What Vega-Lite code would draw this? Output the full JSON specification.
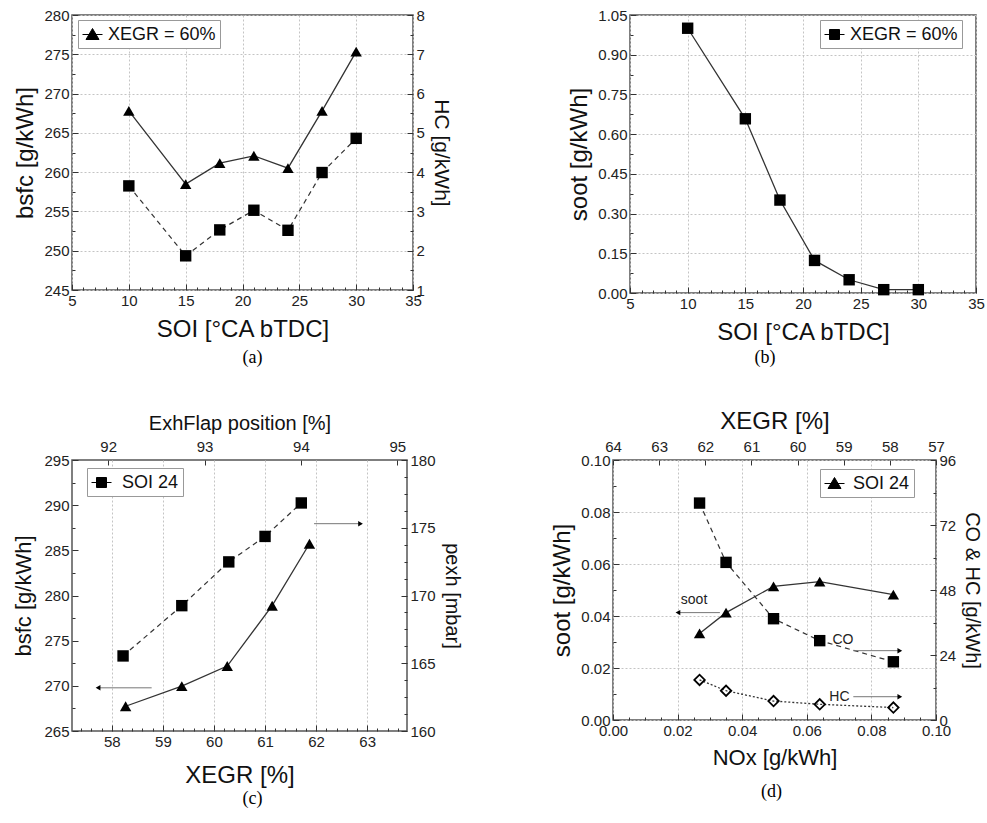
{
  "$schema": "https://vega.github.io/schema/vega-lite/v6.json",
  "background": "white",
  "padding": {"left": 12, "top": 7, "right": 0, "bottom": 0},
  "spacing": 40,
  "resolve": {"scale": {"color": "independent"}, "legend": {"color": "independent"}},
  "config": {
    "font": "Liberation Sans",
    "view": {"stroke": "#555", "strokeWidth": 1.5},
    "axis": {
      "labelFont": "Liberation Sans", "labelFontSize": 15, "labelColor": "#222",
      "titleFont": "Liberation Sans", "titleFontWeight": "normal", "titleColor": "#111",
      "domain": false, "tickColor": "#333", "tickWidth": 1,
      "gridColor": "#c4c4c4", "gridDash": [2, 2], "gridWidth": 1,
      "labelOverlap": false, "labelFlush": false, "labelPadding": 9, "titlePadding": 6
    },
    "legend": {
      "orient": "none", "title": null, "labelFont": "Liberation Sans", "labelFontSize": 18, "labelColor": "#111",
      "strokeColor": "#999", "fillColor": "white", "padding": 4, "symbolSize": 400, "labelOffset": 5,
      "symbolStrokeColor": "#000", "symbolFillColor": "#000", "symbolStrokeWidth": 1
    }
  },
  "datasets": {
    "a_bsfc": [
      {"x": 10, "y": 267.8}, {"x": 15, "y": 258.47}, {"x": 18, "y": 261.14}, {"x": 21, "y": 262.08},
      {"x": 24, "y": 260.51}, {"x": 27, "y": 267.8}, {"x": 30, "y": 275.34}
    ],
    "a_hc": [
      {"x": 10, "y": 3.65}, {"x": 15, "y": 1.87}, {"x": 18, "y": 2.53}, {"x": 21, "y": 3.03},
      {"x": 24, "y": 2.52}, {"x": 27, "y": 3.99}, {"x": 30, "y": 4.86}
    ],
    "b_soot": [
      {"x": 10, "y": 1.0}, {"x": 15, "y": 0.658}, {"x": 18, "y": 0.351}, {"x": 21, "y": 0.123},
      {"x": 24, "y": 0.05}, {"x": 27, "y": 0.0126}, {"x": 30, "y": 0.0126}
    ],
    "c_bsfc": [
      {"x": 58.27, "y": 267.74}, {"x": 59.37, "y": 269.97}, {"x": 60.26, "y": 272.19},
      {"x": 61.14, "y": 278.87}, {"x": 61.87, "y": 285.73}
    ],
    "c_pexh": [
      {"x": 58.22, "y": 165.54}, {"x": 59.37, "y": 169.25}, {"x": 60.29, "y": 172.48},
      {"x": 61.0, "y": 174.36}, {"x": 61.71, "y": 176.83}
    ],
    "c_arrow_left": [{"x": 58.78, "x2": 57.73, "y": 269.78}],
    "c_head_left": [{"x": 57.73, "y": 269.78}],
    "c_arrow_right": [{"x": 61.96, "x2": 62.87, "y": 287.95}],
    "c_head_right": [{"x": 62.87, "y": 287.95}],
    "d_soot": [
      {"x": 0.0268, "y": 0.0333}, {"x": 0.035, "y": 0.0413}, {"x": 0.0497, "y": 0.0514},
      {"x": 0.064, "y": 0.0532}, {"x": 0.0868, "y": 0.0482}
    ],
    "d_co": [
      {"x": 0.0268, "y": 80.1}, {"x": 0.035, "y": 58.2}, {"x": 0.0497, "y": 37.4},
      {"x": 0.064, "y": 29.3}, {"x": 0.0868, "y": 21.5}
    ],
    "d_hc": [
      {"x": 0.0268, "y": 14.8}, {"x": 0.035, "y": 10.8}, {"x": 0.0497, "y": 7.0},
      {"x": 0.064, "y": 5.8}, {"x": 0.0868, "y": 4.6}
    ],
    "d_soot_arrow": [{"x": 0.0331, "x2": 0.0201, "y": 0.0413}],
    "d_soot_head": [{"x": 0.0201, "y": 0.0413}],
    "d_soot_text": [{"x": 0.0251, "y": 0.0462, "t": "soot"}],
    "d_right_arrows": [{"x": 0.0744, "x2": 0.0888, "y": 25.6}, {"x": 0.0744, "x2": 0.0888, "y": 8.6}],
    "d_right_heads": [{"x": 0.0888, "y": 25.6}, {"x": 0.0888, "y": 8.6}],
    "d_right_text": [{"x": 0.0712, "y": 29.5, "t": "CO"}, {"x": 0.0701, "y": 8.6, "t": "HC"}]
  },
  "vconcat": [
    {
      "bounds": "flush",
      "spacing": 217,
      "resolve": {"scale": {"color": "independent"}, "legend": {"color": "independent"}},
      "hconcat": [
        {
          "width": 341, "height": 275,
          "title": {"text": "(a)", "orient": "bottom", "font": "Liberation Serif", "fontSize": 18, "fontWeight": "normal", "color": "#000", "offset": 8, "dx": 10},
          "layer": [
            {
              "encoding": {
                "x": {"field": "x", "type": "quantitative", "scale": {"domain": [5, 35], "nice": false, "zero": false},
                  "axis": {"title": "SOI [°CA bTDC]", "titleFontSize": 24,
                    "values": [5,6,7,8,9,10,11,12,13,14,15,16,17,18,19,20,21,22,23,24,25,26,27,28,29,30,31,32,33,34,35],
                    "labelExpr": "datum.value % 5 === 0 ? datum.label : ''",
                    "tickSize": {"condition": {"test": "datum.value % 5 === 0", "value": -6}, "value": -3},
                    "gridOpacity": {"condition": {"test": "datum.value % 5 === 0", "value": 1}, "value": 0}}},
                "y": {"field": "y", "type": "quantitative", "scale": {"domain": [245, 280], "nice": false, "zero": false},
                  "axis": {"orient": "left", "title": "bsfc [g/kWh]", "titleFontSize": 24,
                    "values": [245,247.5,250,252.5,255,257.5,260,262.5,265,267.5,270,272.5,275,277.5,280],
                    "labelExpr": "datum.value % 5 === 0 ? datum.label : ''",
                    "tickSize": {"condition": {"test": "datum.value % 5 === 0", "value": -6}, "value": -3},
                    "gridOpacity": {"condition": {"test": "datum.value % 5 === 0", "value": 1}, "value": 0}}}
              },
              "layer": [
                {"data": {"name": "a_bsfc"}, "mark": {"type": "line", "color": "#333", "strokeWidth": 1.3}},
                {"data": {"name": "a_bsfc"}, "mark": {"type": "point", "shape": "triangle-up", "filled": true, "size": 130, "opacity": 1},
                  "encoding": {"color": {"datum": "XEGR = 60%", "scale": {"range": ["#000"]},
                    "legend": {"legendX": 6, "legendY": 5, "symbolType": "M-1,0H1M0,-0.6L0.65,0.5L-0.65,0.5Z",
                      "encode": {"symbols": {"update": {"stroke": {"value": "#000"}, "strokeWidth": {"value": 1}, "fill": {"value": "#000"}, "opacity": {"value": 1}}}}}}}}
              ]
            },
            {
              "encoding": {
                "x": {"field": "x", "type": "quantitative", "scale": {"domain": [5, 35], "nice": false, "zero": false},
                  "axis": {"title": "SOI [°CA bTDC]", "titleFontSize": 24,
                    "values": [5,6,7,8,9,10,11,12,13,14,15,16,17,18,19,20,21,22,23,24,25,26,27,28,29,30,31,32,33,34,35],
                    "labelExpr": "datum.value % 5 === 0 ? datum.label : ''",
                    "tickSize": {"condition": {"test": "datum.value % 5 === 0", "value": -6}, "value": -3},
                    "gridOpacity": {"condition": {"test": "datum.value % 5 === 0", "value": 1}, "value": 0}}},
                "y": {"field": "y", "type": "quantitative", "scale": {"domain": [1, 8], "nice": false, "zero": false},
                  "axis": {"orient": "right", "title": "HC [g/kWh]", "titleFontSize": 21, "grid": false,
                    "values": [1,1.5,2,2.5,3,3.5,4,4.5,5,5.5,6,6.5,7,7.5,8],
                    "labelExpr": "datum.value % 1 === 0 ? format(datum.value, 'd') : ''",
                    "tickSize": {"condition": {"test": "datum.value % 1 === 0", "value": -6}, "value": -3}}}
              },
              "layer": [
                {"data": {"name": "a_hc"}, "mark": {"type": "line", "color": "#333", "strokeWidth": 1.2, "strokeDash": [5, 4]}},
                {"data": {"name": "a_hc"}, "mark": {"type": "point", "shape": "square", "filled": true, "size": 130, "color": "#000", "opacity": 1}}
              ]
            }
          ],
          "resolve": {"scale": {"y": "independent"}}
        },
        {
          "width": 346, "height": 278,
          "title": {"text": "(b)", "orient": "bottom", "font": "Liberation Serif", "fontSize": 18, "fontWeight": "normal", "color": "#000", "offset": 5, "dx": -38},
          "data": {"name": "b_soot"},
          "encoding": {
            "x": {"field": "x", "type": "quantitative", "scale": {"domain": [5, 35], "nice": false, "zero": false},
              "axis": {"title": "SOI [°CA bTDC]", "titleFontSize": 24,
                "values": [5,6,7,8,9,10,11,12,13,14,15,16,17,18,19,20,21,22,23,24,25,26,27,28,29,30,31,32,33,34,35],
                "labelExpr": "datum.value % 5 === 0 ? datum.label : ''",
                "tickSize": {"condition": {"test": "datum.value % 5 === 0", "value": -6}, "value": -3},
                "gridOpacity": {"condition": {"test": "datum.value % 5 === 0", "value": 1}, "value": 0}}},
            "y": {"field": "y", "type": "quantitative", "scale": {"domain": [0, 1.05], "nice": false, "zero": false},
              "axis": {"title": "soot [g/kWh]", "titleFontSize": 24, "format": ".2f",
                "values": [0,0.075,0.15,0.225,0.3,0.375,0.45,0.525,0.6,0.675,0.75,0.825,0.9,0.975,1.05],
                "labelExpr": "abs(datum.value/0.15 - round(datum.value/0.15)) < 0.001 ? datum.label : ''",
                "tickSize": {"condition": {"test": "abs(datum.value/0.15 - round(datum.value/0.15)) < 0.001", "value": -6}, "value": -3},
                "gridOpacity": {"condition": {"test": "abs(datum.value/0.15 - round(datum.value/0.15)) < 0.001", "value": 1}, "value": 0}}}
          },
          "layer": [
            {"mark": {"type": "line", "color": "#333", "strokeWidth": 1.3}},
            {"mark": {"type": "point", "shape": "square", "filled": true, "size": 130, "opacity": 1},
              "encoding": {"color": {"datum": "XEGR = 60%", "scale": {"range": ["#000"]},
                "legend": {"legendX": 190, "legendY": 5, "symbolType": "M-1,0H1M-0.5,-0.5H0.5V0.5H-0.5Z",
                  "encode": {"symbols": {"update": {"stroke": {"value": "#000"}, "strokeWidth": {"value": 1}, "fill": {"value": "#000"}, "opacity": {"value": 1}}}}}}}}
          ]
        }
      ]
    },
    {
      "bounds": "flush",
      "spacing": 206,
      "resolve": {"scale": {"color": "independent"}, "legend": {"color": "independent"}},
      "hconcat": [
        {
          "width": 335, "height": 271,
          "title": {"text": "(c)", "orient": "bottom", "font": "Liberation Serif", "fontSize": 18, "fontWeight": "normal", "color": "#000", "offset": 3, "dx": 13},
          "layer": [
            {
              "encoding": {
                "x": {"field": "x", "type": "quantitative", "scale": {"domain": [57.22, 63.78], "nice": false, "zero": false},
                  "axis": {"orient": "bottom", "title": "XEGR [%]", "titleFontSize": 24, "titlePadding": 11,
                    "values": [57.4,57.6,57.8,58,58.2,58.4,58.6,58.8,59,59.2,59.4,59.6,59.8,60,60.2,60.4,60.6,60.8,61,61.2,61.4,61.6,61.8,62,62.2,62.4,62.6,62.8,63,63.2,63.4,63.6],
                    "labelExpr": "abs(datum.value - round(datum.value)) < 0.001 ? format(datum.value, 'd') : ''",
                    "tickSize": {"condition": {"test": "abs(datum.value - round(datum.value)) < 0.001", "value": -6}, "value": -3},
                    "gridOpacity": {"condition": {"test": "abs(datum.value - round(datum.value)) < 0.001", "value": 1}, "value": 0}}},
                "y": {"field": "y", "type": "quantitative", "scale": {"domain": [265, 295], "nice": false, "zero": false},
                  "axis": {"orient": "left", "title": "bsfc [g/kWh]", "titleFontSize": 22, "titlePadding": 8, "grid": false,
                    "values": [265,267.5,270,272.5,275,277.5,280,282.5,285,287.5,290,292.5,295],
                    "labelExpr": "datum.value % 5 === 0 ? datum.label : ''",
                    "tickSize": {"condition": {"test": "datum.value % 5 === 0", "value": -6}, "value": -3}}}
              },
              "layer": [
                {"data": {"name": "c_bsfc"}, "mark": {"type": "line", "color": "#333", "strokeWidth": 1.3}},
                {"data": {"name": "c_bsfc"}, "mark": {"type": "point", "shape": "triangle-up", "filled": true, "size": 130, "color": "#000", "opacity": 1}},
                {"data": {"name": "c_arrow_left"}, "mark": {"type": "rule", "color": "#777", "strokeWidth": 1}, "encoding": {"x2": {"field": "x2"}}},
                {"data": {"name": "c_head_left"}, "mark": {"type": "point", "shape": "triangle-left", "filled": true, "size": 30, "color": "#000", "opacity": 1}},
                {"data": {"name": "c_arrow_right"}, "mark": {"type": "rule", "color": "#777", "strokeWidth": 1}, "encoding": {"x2": {"field": "x2"}}},
                {"data": {"name": "c_head_right"}, "mark": {"type": "point", "shape": "triangle-right", "filled": true, "size": 30, "color": "#000", "opacity": 1}}
              ]
            },
            {
              "encoding": {
                "x": {"field": "x", "type": "quantitative", "scale": {"domain": [57.22, 63.78], "nice": false, "zero": false}, "axis": null},
                "y": {"field": "y", "type": "quantitative", "scale": {"domain": [160, 180], "nice": false, "zero": false},
                  "axis": {"orient": "right", "title": "pexh [mbar]", "titleFontSize": 20,
                    "values": [160,161.25,162.5,163.75,165,166.25,167.5,168.75,170,171.25,172.5,173.75,175,176.25,177.5,178.75,180],
                    "labelExpr": "datum.value % 5 === 0 ? datum.label : ''",
                    "tickSize": {"condition": {"test": "datum.value % 5 === 0", "value": -6}, "value": -3},
                    "gridOpacity": {"condition": {"test": "datum.value % 5 === 0", "value": 1}, "value": 0}}}
              },
              "layer": [
                {"data": {"name": "c_pexh"}, "mark": {"type": "line", "color": "#333", "strokeWidth": 1.2, "strokeDash": [5, 4]}},
                {"data": {"name": "c_pexh"}, "mark": {"type": "point", "shape": "square", "filled": true, "size": 130, "opacity": 1},
                  "encoding": {"color": {"datum": "SOI 24", "scale": {"range": ["#000"]},
                    "legend": {"legendX": 15, "legendY": 8, "labelOffset": 10, "symbolType": "M-1,0H1M-0.5,-0.5H0.5V0.5H-0.5Z",
                      "encode": {"symbols": {"update": {"stroke": {"value": "#000"}, "strokeWidth": {"value": 1}, "fill": {"value": "#000"}, "opacity": {"value": 1}}}}}}}}
              ]
            },
            {
              "data": {"values": [{}]},
              "mark": {"type": "point", "opacity": 0},
              "encoding": {
                "x": {"datum": 93, "type": "quantitative", "scale": {"domain": [91.625, 95.1], "nice": false, "zero": false},
                  "axis": {"orient": "top", "title": "ExhFlap position [%]", "titleFontSize": 20, "values": [92, 93, 94, 95], "grid": false, "tickSize": -5, "labelPadding": 11}}
              }
            }
          ],
          "resolve": {"scale": {"x": "independent", "y": "independent"}}
        },
        {
          "width": 323, "height": 260,
          "title": {"text": "(d)", "orient": "bottom", "font": "Liberation Serif", "fontSize": 18, "fontWeight": "normal", "color": "#000", "offset": 15, "dx": -3},
          "layer": [
            {
              "encoding": {
                "x": {"field": "x", "type": "quantitative", "scale": {"domain": [0, 0.1], "nice": false, "zero": false},
                  "axis": {"orient": "bottom", "title": "NOx [g/kWh]", "titleFontSize": 22, "format": ".2f",
                    "values": [0,0.005,0.01,0.015,0.02,0.025,0.03,0.035,0.04,0.045,0.05,0.055,0.06,0.065,0.07,0.075,0.08,0.085,0.09,0.095,0.1],
                    "labelExpr": "abs(datum.value/0.02 - round(datum.value/0.02)) < 0.001 ? datum.label : ''",
                    "tickSize": {"condition": {"test": "abs(datum.value/0.02 - round(datum.value/0.02)) < 0.001", "value": -6}, "value": -3},
                    "gridOpacity": {"condition": {"test": "abs(datum.value/0.02 - round(datum.value/0.02)) < 0.001", "value": 1}, "value": 0}}},
                "y": {"field": "y", "type": "quantitative", "scale": {"domain": [0, 0.1], "nice": false, "zero": false},
                  "axis": {"orient": "left", "title": "soot [g/kWh]", "titleFontSize": 24, "format": ".2f",
                    "values": [0,0.01,0.02,0.03,0.04,0.05,0.06,0.07,0.08,0.09,0.1],
                    "labelExpr": "abs(datum.value/0.02 - round(datum.value/0.02)) < 0.001 ? datum.label : ''",
                    "tickSize": {"condition": {"test": "abs(datum.value/0.02 - round(datum.value/0.02)) < 0.001", "value": -6}, "value": -3},
                    "gridOpacity": {"condition": {"test": "abs(datum.value/0.02 - round(datum.value/0.02)) < 0.001", "value": 1}, "value": 0}}}
              },
              "layer": [
                {"data": {"name": "d_soot"}, "mark": {"type": "line", "color": "#333", "strokeWidth": 1.3}},
                {"data": {"name": "d_soot"}, "mark": {"type": "point", "shape": "triangle-up", "filled": true, "size": 130, "opacity": 1},
                  "encoding": {"color": {"datum": "SOI 24", "scale": {"range": ["#000"]},
                    "legend": {"legendX": 207, "legendY": 9, "labelOffset": 8, "symbolType": "M-1,0H1M0,-0.6L0.65,0.5L-0.65,0.5Z",
                      "encode": {"symbols": {"update": {"stroke": {"value": "#000"}, "strokeWidth": {"value": 1}, "fill": {"value": "#000"}, "opacity": {"value": 1}}}}}}}},
                {"data": {"name": "d_soot_arrow"}, "mark": {"type": "rule", "color": "#777", "strokeWidth": 1}, "encoding": {"x2": {"field": "x2"}}},
                {"data": {"name": "d_soot_head"}, "mark": {"type": "point", "shape": "triangle-left", "filled": true, "size": 30, "color": "#000", "opacity": 1}},
                {"data": {"name": "d_soot_text"}, "mark": {"type": "text", "fontSize": 14, "font": "Liberation Sans", "color": "#222"}, "encoding": {"text": {"field": "t"}}}
              ]
            },
            {
              "encoding": {
                "x": {"field": "x", "type": "quantitative", "scale": {"domain": [0, 0.1], "nice": false, "zero": false}, "axis": null},
                "y": {"field": "y", "type": "quantitative", "scale": {"domain": [0, 96], "nice": false, "zero": false},
                  "axis": {"orient": "right", "title": "CO & HC [g/kWh]", "titleFontSize": 20, "grid": false,
                    "values": [0,12,24,36,48,60,72,84,96],
                    "labelExpr": "datum.value % 24 === 0 ? datum.label : ''",
                    "tickSize": {"condition": {"test": "datum.value % 24 === 0", "value": -6}, "value": -3}}}
              },
              "layer": [
                {"data": {"name": "d_co"}, "mark": {"type": "line", "color": "#333", "strokeWidth": 1.2, "strokeDash": [5, 4]}},
                {"data": {"name": "d_co"}, "mark": {"type": "point", "shape": "square", "filled": true, "size": 130, "color": "#000", "opacity": 1}},
                {"data": {"name": "d_hc"}, "mark": {"type": "line", "color": "#333", "strokeWidth": 1.3, "strokeDash": [2, 2]}},
                {"data": {"name": "d_hc"}, "mark": {"type": "point", "shape": "diamond", "filled": false, "size": 110, "color": "#000", "strokeWidth": 1.8, "opacity": 1}},
                {"data": {"name": "d_right_arrows"}, "mark": {"type": "rule", "color": "#777", "strokeWidth": 1}, "encoding": {"x2": {"field": "x2"}}},
                {"data": {"name": "d_right_heads"}, "mark": {"type": "point", "shape": "triangle-right", "filled": true, "size": 30, "color": "#000", "opacity": 1}},
                {"data": {"name": "d_right_text"}, "mark": {"type": "text", "fontSize": 14, "font": "Liberation Sans", "color": "#222"}, "encoding": {"text": {"field": "t"}}}
              ]
            },
            {
              "data": {"values": [{}]},
              "mark": {"type": "point", "opacity": 0},
              "encoding": {
                "x": {"datum": 60, "type": "quantitative", "scale": {"domain": [57, 64], "reverse": true, "nice": false, "zero": false},
                  "axis": {"orient": "top", "title": "XEGR [%]", "titleFontSize": 24, "values": [57, 58, 59, 60, 61, 62, 63, 64], "grid": false, "tickSize": -5, "labelPadding": 11}}
              }
            }
          ],
          "resolve": {"scale": {"x": "independent", "y": "independent"}}
        }
      ]
    }
  ]
}
